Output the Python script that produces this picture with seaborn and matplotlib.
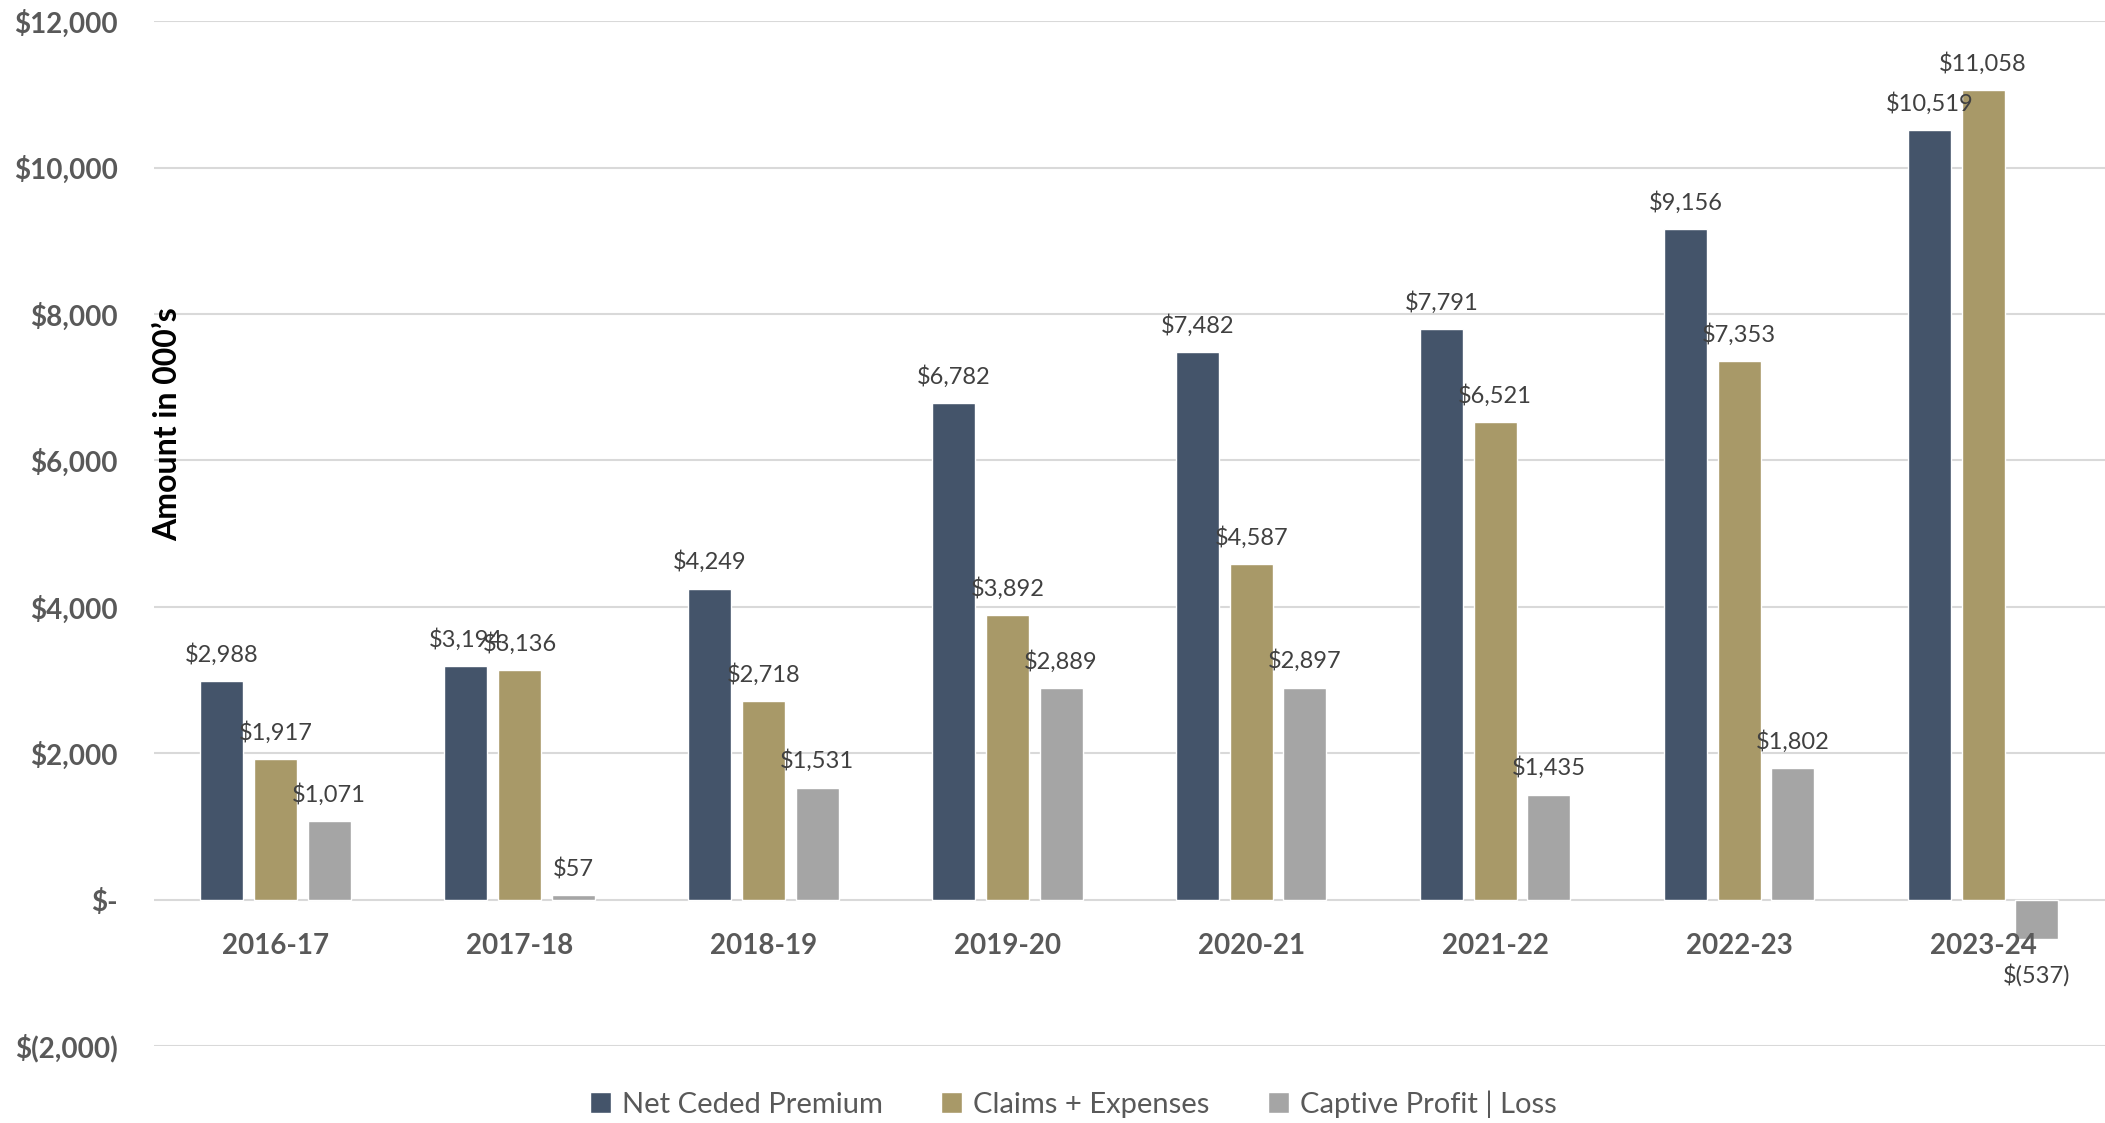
import matplotlib
matplotlib.use("Agg")
import matplotlib.pyplot as plt
import seaborn as sns
import pandas as pd
from matplotlib.ticker import FuncFormatter

years = ["2016-17", "2017-18", "2018-19", "2019-20", "2020-21", "2021-22", "2022-23", "2023-24"]
net_ceded = [2988, 3194, 4249, 6782, 7482, 7791, 9156, 10519]
claims = [1917, 3136, 2718, 3892, 4587, 6521, 7353, 11058]
profit = [1071, 57, 1531, 2889, 2897, 1435, 1802, -537]
series_names = ["Net Ceded Premium", "Claims + Expenses", "Captive Profit | Loss"]
colors = ["#44546A", "#A89968", "#A5A5A5"]


def money(v):
    if round(v) == 0:
        return "$-"
    if v < 0:
        return f"$({-v:,.0f})"
    return f"${v:,.0f}"


df = pd.concat([
    pd.DataFrame({"year": years, "value": vals, "series": name})
    for name, vals in zip(series_names, [net_ceded, claims, profit])
])

sns.set_style("white")
plt.rcParams["font.family"] = ["Lato", "DejaVu Sans"]

fig = plt.figure(figsize=(21.05, 11.23), dpi=100)
ax = fig.add_axes([0.073, 0.0686, 0.927, 0.9124])

sns.barplot(data=df, x="year", y="value", hue="series", palette=colors,
            width=0.66, gap=0.2, saturation=1, ax=ax, legend=True)

for cont in ax.containers:
    vals = cont.datavalues
    pos = [money(v) if v >= 0 else "" for v in vals]
    neg = [money(v) if v < 0 else "" for v in vals]
    ax.bar_label(cont, labels=pos, padding=11, fontsize=17, color="#404040")
    # negative label sits a bit lower, under the year label
    ax.bar_label(cont, labels=neg, padding=18, fontsize=17, color="#404040")

ax.set_xlim(-0.5, 7.5)
ax.set_ylim(-2000, 12000)
ax.set_yticks(range(-2000, 12001, 2000))
ax.yaxis.set_major_formatter(FuncFormatter(lambda v, p: money(v)))
ax.grid(axis="y", color="#D9D9D9", linewidth=1.5)
ax.set_axisbelow(True)
ax.xaxis.set_zorder(3)  # year labels drawn over the negative bar, as in the original
# category labels sit under the zero line, not the bottom of the axes
ax.spines["bottom"].set_position(("data", 0))
for s in ax.spines.values():
    s.set_visible(False)
ax.tick_params(axis="y", length=0, pad=26, labelsize=20, labelcolor="#595959")
ax.tick_params(axis="x", length=0, pad=24, labelsize=20, labelcolor="#595959")
for lab in ax.get_xticklabels() + ax.get_yticklabels():
    lab.set_fontweight("bold")
ax.set_xlabel("")
ax.set_ylabel("")

ax.text(0.007, 6500, "Amount in 000\u2019s", transform=ax.get_yaxis_transform(),
        rotation=90, ha="center", va="center", fontsize=23, fontweight="bold",
        color="black")

handles, labels = ax.get_legend_handles_labels()
ax.get_legend().remove()
fig.legend(handles, labels, loc="center", bbox_to_anchor=(0.51, 0.017), ncol=3,
           frameon=False, fontsize=21, labelcolor="#595959", handlelength=0.7,
           handleheight=0.7, handletextpad=0.4, columnspacing=2.0)

fig.savefig("out.png", dpi=100)
